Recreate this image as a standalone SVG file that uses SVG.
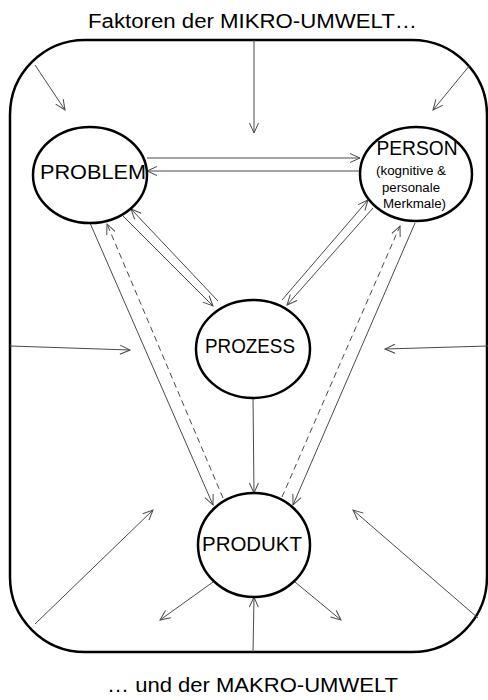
<svg xmlns="http://www.w3.org/2000/svg" width="488" height="700" viewBox="0 0 488 700">
<style>
.frame{fill:none;stroke:#000;stroke-width:2.5}
.node{fill:#fff;stroke:#000;stroke-width:2.5}
.lbl{font-family:"Liberation Sans",Arial,sans-serif;fill:#000;text-anchor:middle}
.big{font-size:21px}
.small{font-size:12px}
.title{font-size:20px}
.c{fill:none;stroke:#4a4a4a;stroke-width:1;marker-end:url(#ah)}
.d{stroke-dasharray:6,4}
</style>
<defs>
<marker id="ah" viewBox="0 0 12 12" refX="11" refY="6" markerWidth="12" markerHeight="12" markerUnits="userSpaceOnUse" orient="auto">
<path d="M1,1.5 L11,6 L1,10.5" fill="none" stroke="#4a4a4a" stroke-width="1"/>
</marker>
</defs>
<rect id="frame" class="frame" x="10" y="40" width="477" height="612" rx="75" ry="75"/>
<text class="lbl title" x="252.5" y="28" textLength="329" lengthAdjust="spacingAndGlyphs">Faktoren der MIKRO-UMWELT…</text>
<text class="lbl title" x="252.5" y="692" textLength="291" lengthAdjust="spacingAndGlyphs">… und der MAKRO-UMWELT</text>
<g id="connectors">
<line class="c" x1="254" y1="40" x2="254" y2="133"/>
<line class="c" x1="35" y1="65" x2="65" y2="110"/>
<line class="c" x1="470" y1="65" x2="433" y2="110"/>
<line class="c" x1="147" y1="158" x2="360" y2="158"/>
<line class="c" x1="360" y1="171" x2="147" y2="171"/>
<line class="c" x1="123" y1="216" x2="213" y2="306"/>
<line class="c" x1="218" y1="301" x2="131" y2="209"/>
<line class="c" x1="282" y1="300" x2="368" y2="200"/>
<line class="c" x1="373" y1="208" x2="287" y2="305"/>
<line class="c" x1="90" y1="223" x2="213" y2="505"/>
<line class="c d" x1="223" y1="498" x2="107" y2="224"/>
<line class="c" x1="415" y1="223" x2="293" y2="505"/>
<line class="c d" x1="282" y1="497" x2="400" y2="226"/>
<line class="c" x1="253" y1="398" x2="254" y2="493"/>
<line class="c" x1="10" y1="346" x2="130" y2="350"/>
<line class="c" x1="488" y1="346" x2="385" y2="349"/>
<line class="c" x1="35" y1="624" x2="153" y2="510"/>
<line class="c" x1="478" y1="618" x2="353" y2="510"/>
<line class="c" x1="253" y1="652" x2="254" y2="597"/>
<line class="c" x1="213" y1="582" x2="160" y2="620"/>
<line class="c" x1="295" y1="582" x2="341" y2="620"/>
</g>
<g id="problem">
<ellipse class="node" cx="90" cy="175" rx="57" ry="48"/>
<text class="lbl big" x="93" y="179" textLength="106" lengthAdjust="spacingAndGlyphs">PROBLEM</text>
</g>
<g id="person">
<ellipse class="node" cx="416" cy="174" rx="56" ry="47"/>
<text class="lbl big" x="417" y="155" textLength="81" lengthAdjust="spacingAndGlyphs">PERSON</text>
<text class="lbl small" x="411" y="175" textLength="70" lengthAdjust="spacingAndGlyphs">(kognitive &amp;</text>
<text class="lbl small" x="411" y="192" textLength="58" lengthAdjust="spacingAndGlyphs">personale</text>
<text class="lbl small" x="414.5" y="208" textLength="63" lengthAdjust="spacingAndGlyphs">Merkmale)</text>
</g>
<g id="prozess">
<ellipse class="node" cx="253" cy="349" rx="57" ry="49"/>
<text class="lbl big" x="250" y="353" textLength="90" lengthAdjust="spacingAndGlyphs">PROZESS</text>
</g>
<g id="produkt">
<ellipse class="node" cx="254" cy="545" rx="56" ry="52"/>
<text class="lbl big" x="252" y="551" textLength="100" lengthAdjust="spacingAndGlyphs">PRODUKT</text>
</g>
</svg>
